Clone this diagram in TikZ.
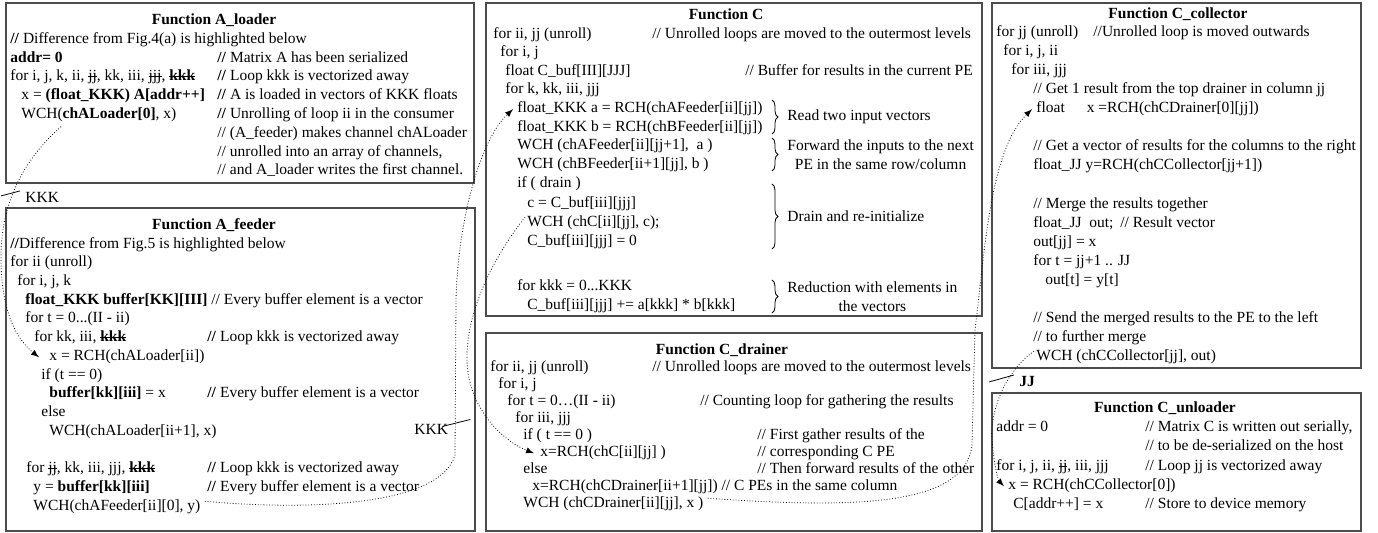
\documentclass[tikz,border=0pt]{standalone}
\usepackage{fontspec}
\setmainfont{Liberation Serif}
\usetikzlibrary{arrows,calc,decorations.pathreplacing}

% struck-out loop names
\newcommand{\strike}[1]{\begingroup\setbox0\hbox{#1}\rlap{\rule[0.55ex]{\wd0}{0.55pt}}\box0\endgroup}

\tikzstyle{fnbox} = [draw=black!70, line width=1pt]
\tikzstyle{code} = [anchor=base west, inner sep=0pt, font=\fontsize{7.75}{9.5}\selectfont]
\tikzstyle{fname} = [anchor=base, inner sep=0pt, font=\fontsize{7.75}{9.5}\selectfont\bfseries]
\tikzstyle{note} = [anchor=west, inner sep=0pt, align=center, font=\fontsize{7.75}{9.5}\selectfont]
\tikzstyle{chan} = [densely dotted, thin, -latex]
\tikzstyle{width} = [thin]
\tikzstyle{grp} = [decorate, decoration={brace, amplitude=3pt}, thin]

\begin{document}
\begin{tikzpicture}[x=0.5pt, y=-0.5pt]
\useasboundingbox (0,0) rectangle (1378,533);

% function frames
\draw[fnbox] (6,3) rectangle (474,183);
\draw[fnbox] (6,208) rectangle (475,531);
\draw[fnbox] (486,3) rectangle (982,316);
\draw[fnbox] (486,333) rectangle (982,531);
\draw[fnbox] (992,3) rectangle (1361,368);
\draw[fnbox] (992,393) rectangle (1361,531);

% A_loader
\node[fname] (al-t) at (214,25) {Function A\_loader};
\node[code] (al-1) at (10,44) {\textbf{//} Difference from Fig.4(a) is highlighted below};
\node[code] (al-2) at (10,63) {\textbf{addr= 0}};
\node[code] (al-3) at (10,81) {for i, j, k, ii, \strike{jj}, kk, iii, \strike{jjj}, \textbf{\strike{kkk}}};
\node[code] (al-4) at (21,100) {x = \textbf{(float\_KKK) A[addr++]}};
\node[code] (al-5) at (21,119) {WCH(\textbf{chALoader[0]}, x)};
\node[code] (al-c2) at (217,63) {\textbf{//} Matrix A has been serialized};
\node[code] (al-c3) at (217,81) {\textbf{//} Loop kkk is vectorized away};
\node[code] (al-c4) at (217,100) {\textbf{//} A is loaded in vectors of KKK floats};
\node[code] (al-c5) at (217,119) {\textbf{//} Unrolling of loop ii in the consumer};
\node[code] (al-c6) at (217,138) {// (A\_feeder) makes channel chALoader};
\node[code] (al-c7) at (217,157) {// unrolled into an array of channels,};
\node[code] (al-c8) at (217,175) {// and A\_loader writes the first channel.};

% A_feeder
\node[fname] (af-t) at (214,230) {Function A\_feeder};
\node[code] (af-1) at (10,249) {\textbf{//}Difference from Fig.5 is highlighted below};
\node[code] (af-2) at (10,267) {for ii (unroll)};
\node[code] (af-3) at (17,286) {for i, j, k};
\node[code] (af-4) at (25,305) {\textbf{float\_KKK buffer[KK][III]} // Every buffer element is a vector};
\node[code] (af-5) at (25,323) {for t = 0...(II - ii)};
\node[code] (af-6) at (34,342) {for kk, iii, \textbf{\strike{kkk}}};
\node[code] (af-7) at (49,361) {x = RCH(chALoader[ii])};
\node[code] (af-8) at (41,380) {if (t == 0)};
\node[code] (af-9) at (49,398) {\textbf{buffer[kk][iii]} = x};
\node[code] (af-10) at (41,417) {else};
\node[code] (af-11) at (49,436) {WCH(chALoader[ii+1], x)};
\node[code] (af-12) at (26,473) {for \strike{jj}, kk, iii, jjj, \textbf{\strike{kkk}}};
\node[code] (af-13) at (33,492) {y = \textbf{buffer[kk][iii]}};
\node[code] (af-14) at (33,511) {WCH(chAFeeder[ii][0], y)};
\node[code] (af-c6) at (207,342) {\textbf{//} Loop kkk is vectorized away};
\node[code] (af-c9) at (207,398) {\textbf{//} Every buffer element is a vector};
\node[code] (af-c12) at (207,473) {\textbf{//} Loop kkk is vectorized away};
\node[code] (af-c13) at (207,492) {\textbf{//} Every buffer element is a vector};

% C
\node[fname] (c-t) at (726,20) {Function C};
\node[code] (c-1) at (493,39) {for ii, jj (unroll)};
\node[code] (c-2) at (500,57) {for i, j};
\node[code] (c-3) at (505,76) {float C\_buf[III][JJJ]};
\node[code] (c-4) at (505,94) {for k, kk, iii, jjj};
\node[code] (c-5) at (517,113) {float\_KKK a = RCH(chAFeeder[ii][jj])};
\node[code] (c-6) at (517,132) {float\_KKK b = RCH(chBFeeder[ii][jj])};
\node[code] (c-7) at (517,150) {WCH (chAFeeder[ii][jj+1],\ \ a )};
\node[code] (c-8) at (517,169) {WCH (chBFeeder[ii+1][jj], b )};
\node[code] (c-9) at (517,188) {if ( drain )};
\node[code] (c-10) at (527,208) {c = C\_buf[iii][jjj]};
\node[code] (c-11) at (527,227) {WCH (chC[ii][jj], c);};
\node[code] (c-12) at (527,246) {C\_buf[iii][jjj] = 0};
\node[code] (c-13) at (517,291) {for kkk = 0...KKK};
\node[code] (c-14) at (527,310) {C\_buf[iii][jjj] += a[kkk] * b[kkk]};
\node[code] (c-c1) at (652,39) {// Unrolled loops are moved to the outermost levels};
\node[code] (c-c3) at (745,76) {// Buffer for results in the current PE};
\draw[grp] (772,100) -- (772,134) coordinate[midway] (c-b1);
\draw[grp] (772,138) -- (772,171) coordinate[midway] (c-b2);
\draw[grp] (772,184) -- (772,249) coordinate[midway] (c-b3);
\draw[grp] (772,280) -- (772,313) coordinate[midway] (c-b4);
\node[note] (c-n1) at ($(c-b1)+(15,0)$) {Read two input vectors};
\node[note] (c-n2) at ($(c-b2)+(15,0)$) {Forward the inputs to the next\\PE in the same row/column};
\node[note] (c-n3) at ($(c-b3)+(15,0)$) {Drain and re-initialize};
\node[note] (c-n4) at ($(c-b4)+(15,0)$) {Reduction with elements in\\the vectors};

% C_drainer
\node[fname] (d-t) at (722,355) {Function C\_drainer};
\node[code] (d-1) at (490,372) {for ii, jj (unroll)};
\node[code] (d-2) at (498,389) {for i, j};
\node[code] (d-3) at (507,406) {for t = 0\dots(II - ii)};
\node[code] (d-4) at (515,423) {for iii, jjj};
\node[code] (d-5) at (523,440) {if ( t == 0 )};
\node[code] (d-6) at (540,457) {x=RCH(chC[ii][jj] )};
\node[code] (d-7) at (523,474) {else};
\node[code] (d-8) at (532,491) {x=RCH(chCDrainer[ii+1][jj]) // C PEs in the same column};
\node[code] (d-9) at (523,508) {WCH (chCDrainer[ii][jj], x )};
\node[code] (d-c1) at (652,372) {// Unrolled loops are moved to the outermost levels};
\node[code] (d-c3) at (700,406) {// Counting loop for gathering the results};
\node[code] (d-c5) at (757,440) {// First gather results of the};
\node[code] (d-c6) at (757,457) {// corresponding C PE};
\node[code] (d-c7) at (757,474) {// Then forward results of the other};

% C_collector
\node[fname] (cc-t) at (1178,19) {Function C\_collector};
\node[code] (cc-1) at (996,37) {for jj (unroll)};
\node[code] (cc-2) at (1003,56) {for i, j, ii};
\node[code] (cc-3) at (1011,75) {for iii, jjj};
\node[code] (cc-4) at (1033,94) {// Get 1 result from the top drainer in column jj};
\node[code] (cc-5) at (1036,113) {float\hspace{11pt}x =RCH(chCDrainer[0][jj])};
\node[code] (cc-7) at (1033,151) {// Get a vector of results for the columns to the right};
\node[code] (cc-8) at (1033,170) {float\_JJ y=RCH(chCCollector[jj+1])};
\node[code] (cc-10) at (1033,209) {// Merge the results together};
\node[code] (cc-11) at (1033,228) {float\_JJ\ \ out;};
\node[code] (cc-12) at (1033,247) {out[jj] = x};
\node[code] (cc-13) at (1033,266) {for t = jj+1 .. JJ};
\node[code] (cc-14) at (1045,285) {out[t] = y[t]};
\node[code] (cc-16) at (1033,323) {// Send the merged results to the PE to the left};
\node[code] (cc-17) at (1033,342) {// to further merge};
\node[code] (cc-18) at (1036,361) {WCH (chCCollector[jj], out)};
\node[code] (cc-c1) at (1093,37) {//Unrolled loop is moved outwards};
\node[code] (cc-c11) at (1120,228) {// Result vector};

% C_unloader
\node[fname] (cu-t) at (1165,413) {Function C\_unloader};
\node[code] (cu-1) at (996,432) {addr = 0};
\node[code] (cu-3) at (996,471) {for i, j, ii, \strike{jj}, iii, jjj};
\node[code] (cu-4) at (1008,490) {x = RCH(chCCollector[0])};
\node[code] (cu-5) at (1013,509) {C[addr++] = x};
\node[code] (cu-c1) at (1145,432) {// Matrix C is written out serially,};
\node[code] (cu-c2) at (1145,451) {// to be de-serialized on the host};
\node[code] (cu-c3) at (1145,471) {// Loop jj is vectorized away};
\node[code] (cu-c5) at (1145,509) {// Store to device memory};

% channel widths
\node[code] (w-al) at (25,203) {KKK};
\node[code] (w-af) at (414,435) {KKK};
\node[code] (w-cc) at (1019,387) {\textbf{JJ}};
\draw[width] ([xshift=-12pt,yshift=1pt]w-al.west) -- ++(19,-5);
\draw[width] ([xshift=-3pt,yshift=-1pt]w-af.north east) -- ++(28,-7);
\draw[width] ([xshift=-15pt,yshift=0pt]w-cc.west) -- ++(25,-7);

% channels between the functions
\draw[chan] ([xshift=20pt,yshift=-2pt]al-5.south west) .. controls (18,165) and (0,210) .. (1,262)
  .. controls (2,310) and (15,338) .. ([xshift=-5pt]af-7.west);
\draw[chan] ([xshift=2pt,yshift=3pt]af-14.east) .. controls (300,510) and (440,508) .. (455,455)
  -- (456,300) .. controls (458,220) and (480,140) .. ([xshift=-2pt]c-5.west);
\draw[chan] ([xshift=-1pt,yshift=3pt]c-11.west) .. controls (495,255) and (466,310) .. (467,360)
  .. controls (468,410) and (505,442) .. ([xshift=-3pt]d-6.west);
\draw[chan] ([xshift=2pt,yshift=3pt]d-9.east) .. controls (850,508) and (965,508) .. (972,445)
  -- (975,330) .. controls (985,250) and (990,150) .. ([xshift=-2pt]cc-5.west);
\draw[chan] ([xshift=-1pt,yshift=3pt]cc-18.west) .. controls (1005,372) and (990,410) .. (992,440)
  .. controls (994,465) and (998,480) .. ([xshift=-2pt]cu-4.west);
\end{tikzpicture}
\end{document}
